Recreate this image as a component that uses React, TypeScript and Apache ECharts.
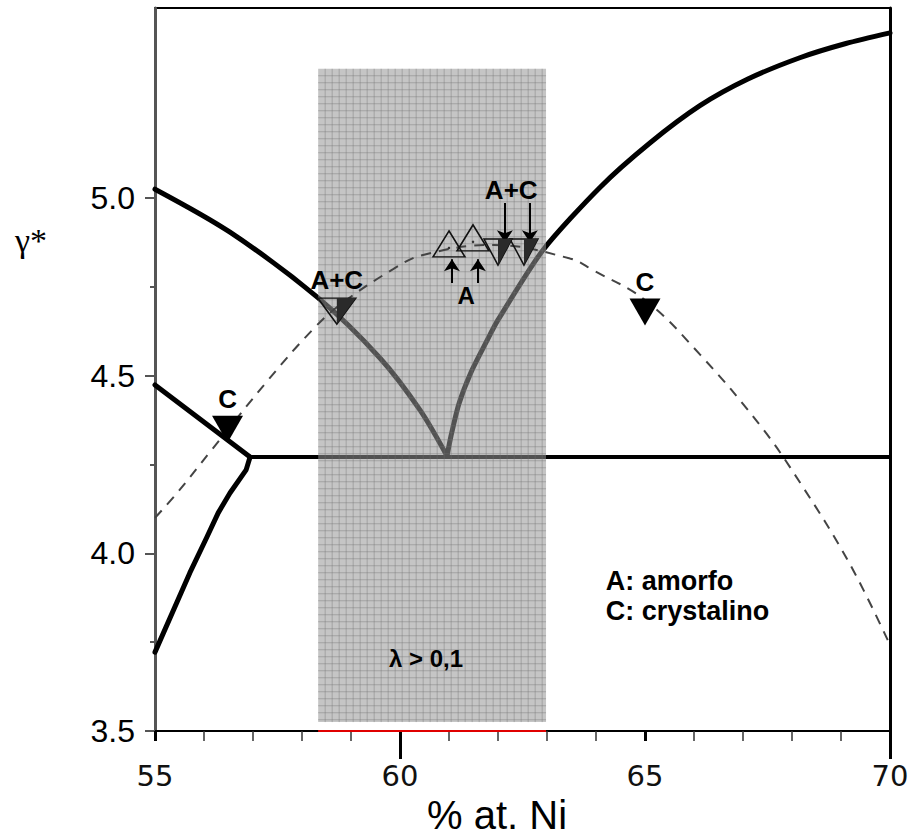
import React, { useEffect, useRef } from "react";
import * as echarts from "echarts";

// ---- axes ----
const xMin = 55;
const xMax = 70;
const yMin = 3.5;
const yMax = 5.535;
const yTicks = [3.5, 4.0, 4.5, 5.0];
const yMinorTicks = [3.75, 4.25, 4.75];
const longXTicks = [60, 70];

// ---- phase-diagram curves ----
const upperLeftBranch = [[55, 5.025], [56.53, 4.904], [58.33, 4.719], [59.59, 4.55], [60.41, 4.403], [60.96, 4.274]];
const rightBranch = [[60.96, 4.274], [61.04, 4.33], [61.2, 4.42], [61.45, 4.51], [61.78, 4.6], [62.0, 4.657], [62.92, 4.854], [64.08, 5.03], [65.1, 5.155], [66.12, 5.26], [67.1, 5.335], [68.16, 5.395], [69.1, 5.435], [70, 5.465]];
const leftShortBranch = [[55, 4.474], [56.94, 4.271]];
const lowerLeftBranch = [[56.94, 4.271], [56.86, 4.235], [56.53, 4.17], [56.29, 4.114], [56.06, 4.046], [55.71, 3.945], [55, 3.722]];
const eutecticLine = [[56.94, 4.271], [70, 4.271]];
const dashedCurve = [[55, 4.1], [55.45, 4.17], [56.12, 4.285], [57.31, 4.488], [58.22, 4.63], [58.78, 4.7], [59.86, 4.8], [60.47, 4.84], [61.9, 4.868], [63.47, 4.83], [63.94, 4.797], [65, 4.713], [66.12, 4.56], [67.35, 4.36], [68.16, 4.2], [69.18, 3.97], [70, 3.742]];

// ---- shaded region (lambda > 0,1) ----
const regionX = [58.33, 62.98];
const regionY = [3.525, 5.364];

// ---- experimental points ----
const crystalMarks = [[56.48, 4.349], [65.0, 4.679]];
const mixedMarks = [[58.71, 4.682], [62.0, 4.848], [62.53, 4.848]];
const amorphMarks = [[61.0, 4.871], [61.49, 4.888]];

// ---- arrows [x, yFrom, yTo] ----
const upArrows = [[61.06, 4.761, 4.828], [61.59, 4.761, 4.828]];
const downArrows = [[62.14, 4.986, 4.876], [62.65, 4.986, 4.876]];

// ---- text notes ----
const centeredNotes: [number, number, string][] = [[61.35, 4.727, "A"], [62.27, 5.023, "A+C"], [60.53, 3.705, "λ > 0,1"]];
const legendNotes: [number, number, string][] = [[64.2, 3.922, "A: amorfo"], [64.2, 3.838, "C: crystalino"]];

const SANS = "Liberation Sans, Arial, sans-serif";

function curve(data: number[][], smooth: number | boolean, extra: any = {}) {
  return {
    type: "line",
    data,
    showSymbol: false,
    symbol: "none",
    smooth,
    silent: true,
    z: 2,
    lineStyle: { color: "#000", width: 5, cap: "round", join: "round" },
    ...extra,
  };
}

export default function App() {
  const ref = useRef<HTMLDivElement>(null);
  useEffect(() => {
    if (!ref.current) return;
    const chart = echarts.init(ref.current, null, { renderer: "svg" });
    const mixedSize = (i: number) => (i === 0 ? [38, 26] : [28, 26]);
    const option: any = {
      animation: false,
      backgroundColor: "#fff",
      grid: { left: 155, right: 29, top: 8, bottom: 108, show: true, borderColor: "#000", borderWidth: 2, backgroundColor: "transparent" },
      xAxis: [
        {
          type: "value", min: xMin, max: xMax, interval: 5, position: "bottom",
          axisLine: { show: true, onZero: false, lineStyle: { color: "#000", width: 2 } },
          axisTick: { show: true, length: 10, lineStyle: { color: "#000", width: 3 } },
          minorTick: { show: true, splitNumber: 5, length: 10, lineStyle: { color: "#333", width: 1.5 } },
          axisLabel: { margin: 30, fontSize: 29, fontFamily: "DejaVu Sans", color: "#111" },
          splitLine: { show: false },
          minorSplitLine: { show: false },
        },
        {
          type: "value", min: xMin, max: xMax, position: "bottom",
          axisLine: { show: false },
          axisTick: { show: true, length: 28, customValues: longXTicks, lineStyle: { color: "#000", width: 3 } },
          axisLabel: { show: false },
          splitLine: { show: false },
        },
      ],
      yAxis: [
        {
          type: "value", min: yMin, max: yMax, position: "left",
          axisLine: { show: true, onZero: false, lineStyle: { color: "#555", width: 3 } },
          axisTick: { show: true, length: 10, customValues: yTicks, lineStyle: { color: "#555", width: 2 } },
          axisLabel: { customValues: yTicks, formatter: (v: number) => v.toFixed(1), fontSize: 32, fontFamily: SANS, color: "#000", margin: 20 },
          splitLine: { show: false },
        },
        {
          type: "value", min: yMin, max: yMax, position: "right",
          axisLine: { show: true, onZero: false, lineStyle: { color: "#000", width: 3 } },
          axisTick: { show: false }, axisLabel: { show: false }, splitLine: { show: false },
        },
        {
          type: "value", min: yMin, max: yMax, position: "left",
          axisLine: { show: false },
          axisTick: { show: true, length: 5, customValues: yMinorTicks, lineStyle: { color: "#555", width: 2 } },
          axisLabel: { show: false }, splitLine: { show: false },
        },
      ],
      graphic: [
        { type: "text", x: 31, y: 240, z: 10, style: { text: "γ*", font: "34px 'Liberation Serif', serif", fill: "#000", align: "center", verticalAlign: "middle" } },
        { type: "text", x: 497, y: 815, z: 10, style: { text: "% at. Ni", font: "40px 'Liberation Sans', Arial, sans-serif", fill: "#000", align: "center", verticalAlign: "middle" } },
      ],
      series: [
        curve(upperLeftBranch, 0.3),
        curve(rightBranch, 0.25),
        curve(leftShortBranch, false),
        curve(lowerLeftBranch, false),
        curve(eutecticLine, false, {
          clip: false,
          lineStyle: { color: "#000", width: 4, cap: "round" },
          markLine: {
            silent: true, symbol: ["none", "none"], label: { show: false },
            lineStyle: { color: "#e00000", width: 2, type: "solid" },
            data: [[{ coord: [regionX[0], yMin] }, { coord: [regionX[1], yMin] }]],
          },
        }),
        {
          type: "custom",
          z: 3,
          clip: false,
          silent: true,
          data: [[regionX[0], regionY[0], regionX[1], regionY[1]]],
          renderItem: (params: any, api: any) => {
            const p0 = api.coord([api.value(0), api.value(3)]);
            const p1 = api.coord([api.value(2), api.value(1)]);
            const x0 = p0[0], y0 = p0[1], w = p1[0] - p0[0], h = p1[1] - p0[1];
            const children: any[] = [
              { type: "rect", shape: { x: x0, y: y0, width: w, height: h }, style: { fill: "rgba(150,150,150,0.55)" } },
            ];
            const step = 7;
            for (let x = x0 + step; x < x0 + w - 1; x += step) {
              children.push({ type: "line", shape: { x1: x, y1: y0, x2: x, y2: y0 + h }, style: { stroke: "rgba(110,110,110,0.4)", lineWidth: 1 } });
            }
            for (let y = y0 + step; y < y0 + h - 1; y += step) {
              children.push({ type: "line", shape: { x1: x0, y1: y, x2: x0 + w, y2: y }, style: { stroke: "rgba(110,110,110,0.4)", lineWidth: 1 } });
            }
            return { type: "group", children };
          },
        },
        {
          type: "line", data: dashedCurve, showSymbol: false, symbol: "none", smooth: 0.4, silent: true, z: 4,
          lineStyle: { color: "#444", width: 2, type: [10, 8] },
        },
        {
          type: "scatter", data: crystalMarks, symbol: "triangle", symbolRotate: 180, symbolSize: [31, 27], z: 5, silent: true,
          itemStyle: { color: "#000", opacity: 1 },
          label: { show: true, position: "top", distance: 4, formatter: "C", fontSize: 26, fontWeight: "bold", fontFamily: SANS, color: "#000" },
        },
        {
          type: "scatter", z: 5, silent: true, symbol: "triangle", symbolRotate: 180,
          data: mixedMarks.map((p, i) => ({
            value: p,
            symbolSize: mixedSize(i),
            label: { show: i === 0 },
          })),
          itemStyle: { color: "rgba(0,0,0,0)", borderColor: "#111", borderWidth: 1.5, opacity: 1 },
          label: { position: "top", distance: 4, formatter: "A+C", fontSize: 26, fontWeight: "bold", fontFamily: SANS, color: "#000" },
        },
        {
          type: "scatter", z: 5, silent: true, symbol: "path://M0,0L10,0L0,17Z",
          data: mixedMarks.map((p, i) => {
            const s = mixedSize(i);
            return { value: p, symbolSize: [s[0] / 2, s[1]], symbolOffset: [s[0] / 4, 0] };
          }),
          itemStyle: { color: "#2a2a2a", opacity: 1 },
        },
        {
          type: "scatter", z: 5, silent: true, symbol: "triangle", symbolSize: [32, 26], data: amorphMarks,
          itemStyle: { color: "rgba(0,0,0,0)", borderColor: "#111", borderWidth: 1.5, opacity: 1 },
          markLine: {
            silent: true, symbol: ["none", "arrow"], symbolSize: 12, label: { show: false },
            lineStyle: { color: "#000", width: 2, type: "solid" },
            data: [...upArrows, ...downArrows].map((a) => [{ coord: [a[0], a[1]] }, { coord: [a[0], a[2]] }]),
          },
        },
        {
          type: "scatter", z: 5, silent: true, symbol: "circle", symbolSize: 2.5, symbolOffset: [0, 4], data: amorphMarks,
          itemStyle: { color: "#333", opacity: 1 },
        },
        {
          type: "scatter", z: 6, silent: true, symbolSize: 0,
          data: centeredNotes.map((n) => ({ value: [n[0], n[1]], name: n[2], label: { fontSize: n[2] === "A+C" ? 26 : 24 } })),
          itemStyle: { opacity: 1 },
          label: { show: true, position: "inside", formatter: "{b}", fontWeight: "bold", fontFamily: SANS, color: "#000" },
        },
        {
          type: "scatter", z: 6, silent: true, symbolSize: 0,
          data: legendNotes.map((n) => ({ value: [n[0], n[1]], name: n[2] })),
          itemStyle: { opacity: 1 },
          label: { show: true, position: "right", distance: 0, formatter: "{b}", fontSize: 27, fontWeight: "bold", fontFamily: SANS, color: "#000" },
        },
      ],
    };
    chart.setOption(option);
    return () => chart.dispose();
  }, []);
  return <div ref={ref} style={{ position: "absolute", left: 0, top: 0, width: 919, height: 839 }} />;
}
